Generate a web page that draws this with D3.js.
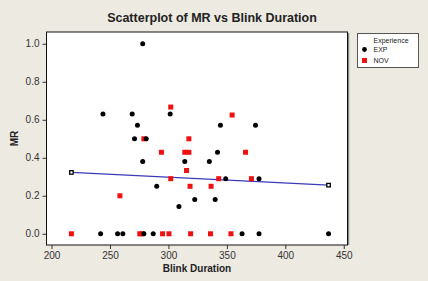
<!DOCTYPE html>
<html lang="en">
<head>
<meta charset="utf-8">
<script src="https://d3js.org/d3.v7.min.js"></script>
<style type="text/css">
  body {
    margin: 0;
    background: #edeae2;
    font-family: Arial, "Liberation Sans", sans-serif;
  }
  .tick text {
    font-size: 10px;
    fill: #333;
  }
  .tick line {
    stroke: #333;
  }
</style>
</head>
<body>
<script type="text/javascript">

  // Experience = EXP
  var expBlink = [278, 244, 269, 301.5, 273.5, 344.5, 374.5, 271, 281, 342, 278, 314, 335, 349, 377.5, 290, 322.5, 340, 309,
                  242, 256.5, 261, 279, 287, 363, 377.5, 437];
  var expMR    = [1.0, 0.63, 0.63, 0.63, 0.571, 0.571, 0.571, 0.5, 0.5, 0.429, 0.381, 0.381, 0.381, 0.29, 0.29, 0.25, 0.18, 0.18, 0.143,
                  0, 0, 0, 0, 0, 0, 0, 0];

  // Experience = NOV
  var novBlink = [302, 354.5, 279, 317.5, 294, 314, 317.5, 366, 315.5, 302, 343, 371, 318.5, 336.5, 258.5,
                  217, 275.5, 277.5, 295, 300.5, 319, 336, 353.5];
  var novMR    = [0.667, 0.625, 0.5, 0.5, 0.429, 0.429, 0.429, 0.429, 0.333, 0.29, 0.29, 0.29, 0.25, 0.25, 0.2,
                  0, 0, 0, 0, 0, 0, 0, 0];

  // fitted line ends
  var fitBlink = [217, 437];
  var fitMR = [0.323, 0.256];

  var xTicks = [200, 250, 300, 350, 400, 450];
  var yTicks = [0, 0.2, 0.4, 0.6, 0.8, 1.0];
  var legendText = ["EXP", "NOV"];

  var width = 428;
  var height = 281;
  var plot = {left: 46.5, top: 32, right: 347.5, bottom: 245};

  var x = d3.scaleLinear()
    .domain([195.7, 453.2])
    .range([plot.left, plot.right]);

  var y = d3.scaleLinear()
    .domain([-0.059, 1.062])
    .range([plot.bottom, plot.top]);

  var svg = d3.select("body")
    .append("svg")
    .attr("width", width)
    .attr("height", height);

  // plot area, with a grey shadow on the right
  svg.append("line")
    .attr("x1", plot.right + 1)
    .attr("x2", plot.right + 1)
    .attr("y1", plot.top + 1)
    .attr("y2", plot.bottom)
    .style("stroke", "#888")
    .style("stroke-width", 1.5);

  svg.append("rect")
    .attr("x", plot.left)
    .attr("y", plot.top)
    .attr("width", plot.right - plot.left)
    .attr("height", plot.bottom - plot.top)
    .style("fill", "#fff")
    .style("stroke", "#111")
    .style("stroke-width", 1);

  // axes
  var xAxis = svg.append("g")
    .attr("transform", "translate(0," + plot.bottom + ")")
    .call(d3.axisBottom(x).tickValues(xTicks).tickSize(4).tickPadding(3).tickFormat(d3.format("d")));
  xAxis.select(".domain").remove();

  var yAxis = svg.append("g")
    .attr("transform", "translate(" + plot.left + ",0)")
    .call(d3.axisLeft(y).tickValues(yTicks).tickSize(4).tickPadding(3).tickFormat(d3.format(".1f")));
  yAxis.select(".domain").remove();

  // fit line
  var fit = fitBlink.map(function(d, i) { return [d, fitMR[i]]; });
  svg.append("path")
    .datum(fit)
    .attr("d", d3.line().x(function(d) { return x(d[0]); }).y(function(d) { return y(d[1]); }))
    .style("fill", "none")
    .style("stroke", "#3a3ab8")
    .style("stroke-width", 1.2);

  svg.selectAll("rect.fitend")
    .data(fit)
    .enter()
    .append("rect")
    .attr("class", "fitend")
    .attr("x", function(d) { return x(d[0]) - 1.75; })
    .attr("y", function(d) { return y(d[1]) - 1.75; })
    .attr("width", 3.5)
    .attr("height", 3.5)
    .style("fill", "#fff")
    .style("stroke", "#000")
    .style("stroke-width", 1.3);

  // NOV squares
  svg.selectAll("rect.nov")
    .data(novBlink)
    .enter()
    .append("rect")
    .attr("class", "nov")
    .attr("x", function(d) { return x(d) - 2.5; })
    .attr("y", function(d, i) { return y(novMR[i]) - 2.5; })
    .attr("width", 5)
    .attr("height", 5)
    .style("fill", "#ee1111");

  // EXP dots
  svg.selectAll("circle.exp")
    .data(expBlink)
    .enter()
    .append("circle")
    .attr("class", "exp")
    .attr("cx", function(d) { return x(d); })
    .attr("cy", function(d, i) { return y(expMR[i]); })
    .attr("r", 2.5)
    .style("fill", "#000");

  // titles
  svg.append("text")
    .attr("x", 212)
    .attr("y", 22)
    .attr("text-anchor", "middle")
    .style("font-size", "12.5px")
    .style("font-weight", "bold")
    .style("fill", "#222")
    .text("Scatterplot of MR vs Blink Duration");

  svg.append("text")
    .attr("x", (plot.left + plot.right) / 2)
    .attr("y", 272)
    .attr("text-anchor", "middle")
    .style("font-size", "10px")
    .style("font-weight", "bold")
    .style("fill", "#222")
    .text("Blink Duration");

  svg.append("text")
    .attr("transform", "translate(18," + (plot.top + plot.bottom) / 2 + ") rotate(-90)")
    .attr("text-anchor", "middle")
    .style("font-size", "10px")
    .style("font-weight", "bold")
    .style("fill", "#222")
    .text("MR");

  // legend
  var lg = svg.append("g").attr("transform", "translate(357.5,33.5)");
  lg.append("rect")
    .attr("width", 61)
    .attr("height", 34)
    .style("fill", "#fff")
    .style("stroke", "#555")
    .style("stroke-width", 1);
  lg.append("text")
    .attr("x", 16)
    .attr("y", 9.5)
    .style("font-size", "7px")
    .style("fill", "#222")
    .text("Experience");

  var items = lg.selectAll("g.item")
    .data(legendText)
    .enter()
    .append("g")
    .attr("class", "item")
    .attr("transform", function(d, i) { return "translate(0," + (16 + i * 11) + ")"; });

  items.append("path")
    .attr("transform", "translate(7,0)")
    .attr("d", function(d, i) {
      return d3.symbol().type(i === 0 ? d3.symbolCircle : d3.symbolSquare).size(i === 0 ? 18 : 25)();
    })
    .style("fill", function(d, i) { return i === 0 ? "#000" : "#ee1111"; });

  items.append("text")
    .attr("x", 16)
    .attr("y", 2.5)
    .style("font-size", "7px")
    .style("fill", "#222")
    .text(function(d) { return d; });

</script>
</body>
</html>
